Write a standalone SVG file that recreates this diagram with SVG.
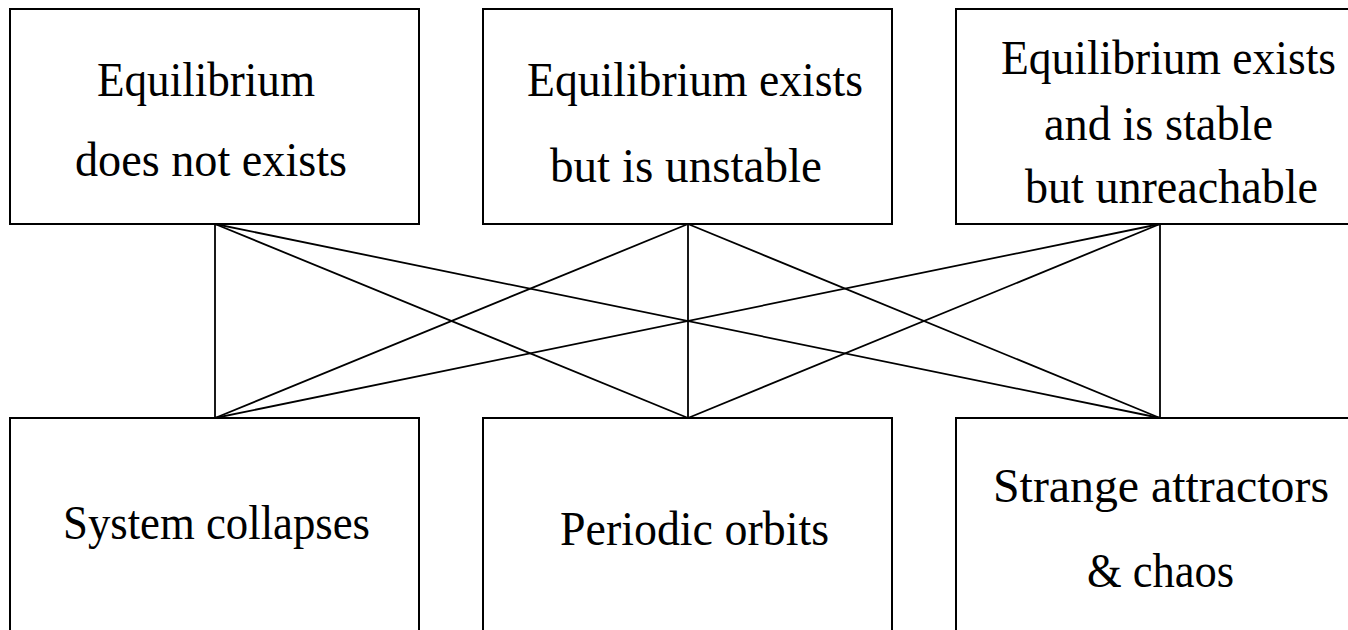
<svg xmlns="http://www.w3.org/2000/svg" width="1348" height="630" viewBox="0 0 1348 630">
<style>
.box{fill:#fff;stroke:#000;stroke-width:2}
.t{font-family:"Liberation Serif","DejaVu Serif",serif;font-size:48px;fill:#000}
.c line{stroke:#000;stroke-width:1.8}
</style>
<rect width="1348" height="630" fill="#fff"/>
<g class="c" id="connectors">
<line x1="215" y1="224" x2="215" y2="418"/>
<line x1="215" y1="224" x2="688" y2="418"/>
<line x1="215" y1="224" x2="1160" y2="418"/>
<line x1="688" y1="224" x2="215" y2="418"/>
<line x1="688" y1="224" x2="688" y2="418"/>
<line x1="688" y1="224" x2="1160" y2="418"/>
<line x1="1160" y1="224" x2="215" y2="418"/>
<line x1="1160" y1="224" x2="688" y2="418"/>
<line x1="1160" y1="224" x2="1160" y2="418"/>
</g>
<g id="n1">
<rect class="box" x="10" y="9" width="409" height="215"/>
<text class="t" x="97" y="96" textLength="218" lengthAdjust="spacingAndGlyphs">Equilibrium</text>
<text class="t" x="75" y="176" textLength="272" lengthAdjust="spacingAndGlyphs">does not exists</text>
</g>
<g id="n2">
<rect class="box" x="483" y="9" width="409" height="215"/>
<text class="t" x="527" y="96" textLength="336" lengthAdjust="spacingAndGlyphs">Equilibrium exists</text>
<text class="t" x="550" y="182" textLength="272" lengthAdjust="spacingAndGlyphs">but is unstable</text>
</g>
<g id="n3">
<rect class="box" x="956" y="9" width="409" height="215"/>
<text class="t" x="1001" y="74" textLength="335" lengthAdjust="spacingAndGlyphs">Equilibrium exists</text>
<text class="t" x="1044" y="140" textLength="229" lengthAdjust="spacingAndGlyphs">and is stable</text>
<text class="t" x="1025" y="203" textLength="293" lengthAdjust="spacingAndGlyphs">but unreachable</text>
</g>
<g id="n4">
<rect class="box" x="10" y="418" width="409" height="230"/>
<text class="t" x="63" y="539" textLength="307" lengthAdjust="spacingAndGlyphs">System collapses</text>
</g>
<g id="n5">
<rect class="box" x="483" y="418" width="409" height="230"/>
<text class="t" x="560" y="545" textLength="269" lengthAdjust="spacingAndGlyphs">Periodic orbits</text>
</g>
<g id="n6">
<rect class="box" x="956" y="418" width="409" height="230"/>
<text class="t" x="993" y="502" textLength="336" lengthAdjust="spacingAndGlyphs">Strange attractors</text>
<text class="t" x="1087" y="587" textLength="147" lengthAdjust="spacingAndGlyphs">&amp; chaos</text>
</g>
</svg>
